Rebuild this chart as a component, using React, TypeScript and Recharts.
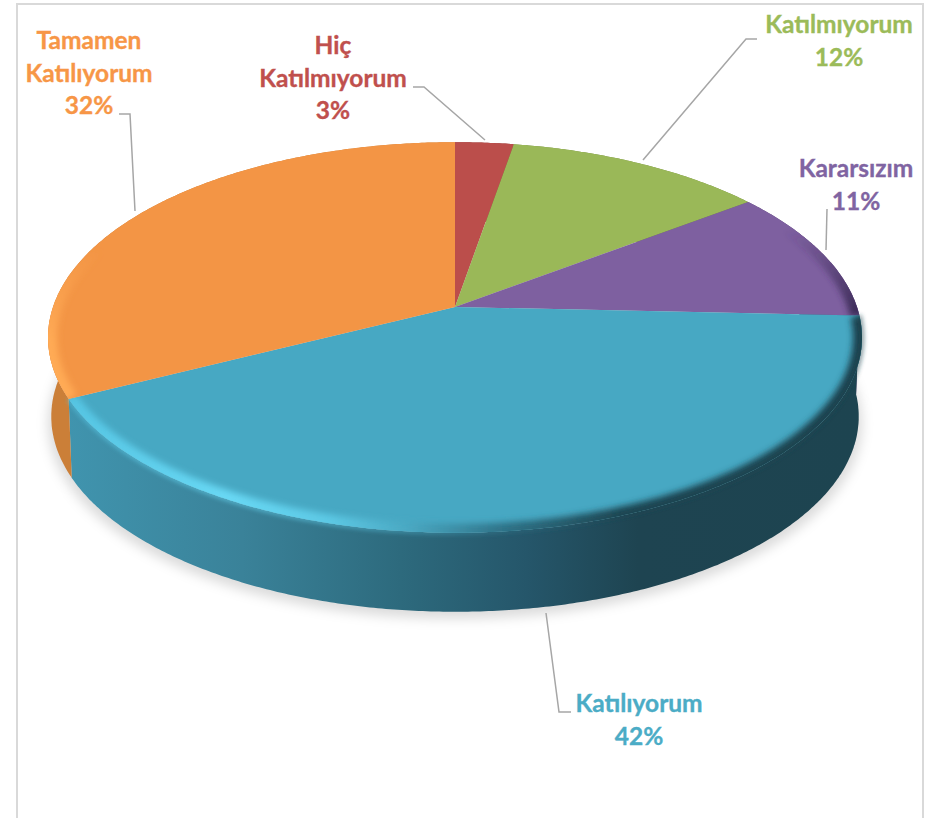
import { Pie, PieChart } from "recharts";

const categories = ["Hiç Katılmıyorum", "Katılmıyorum", "Kararsızım", "Katılıyorum", "Tamamen Katılıyorum"];
const shares = [2.7, 12, 11, 41.9, 32.4];
const faceColors = ["#bb4e4b", "#9ab858", "#7e60a0", "#47a8c3", "#f39545"];
const labelColors = ["#c0504d", "#9bbb59", "#8064a2", "#4bacc6", "#f79646"];
const wallColors = ["#8c3a38", "#73893f", "#5c4576", "url(#wallBlue)", "#cb7f38"];
const rimColors = ["none", "none", "url(#rimPurple)", "url(#rimBlue)", "url(#rimOrange)"];

const labelSpots = [
	{ x: 333, y: 54, line: "413,87 424,87 485,140" },
	{ x: 839, y: 33, line: "757,39 746,39 643,160" },
	{ x: 856, y: 177, line: "827,209 826,250" },
	{ x: 639, y: 712, line: "571,712 559,712 546,613" },
	{ x: 89, y: 49, line: "119,114 130,114 135,211" },
];

const pieData = categories.map((name, i) => ({
	name,
	value: shares[i],
	fill: faceColors[i],
}));

const PERSPECTIVE = 0.156;
const TILT = 0.474;
const DEPTH = 79;

// circle -> screen, the far side of the pie is squeezed a bit
function project(p: any, angle: number, depth = 0, shrink = 1) {
	const a = (angle * Math.PI) / 180;
	const u = Math.cos(a);
	const v = -Math.sin(a);
	const w = 1 - PERSPECTIVE * v;
	return [
		p.cx + (p.outerRadius * shrink * u) / w,
		p.cy + (p.outerRadius * TILT * v) / w + depth,
	];
}

function arcPoints(p: any, depth = 0, shrink = 1) {
	const steps = Math.max(2, Math.ceil(Math.abs(p.endAngle - p.startAngle) * 2));
	const pts: number[][] = [];
	for (let i = 0; i <= steps; i++) {
		pts.push(project(p, p.startAngle + ((p.endAngle - p.startAngle) * i) / steps, depth, shrink));
	}
	return pts;
}

const toPath = (pts: number[][]) =>
	pts.map((q, i) => `${i ? "L" : "M"}${q[0].toFixed(1)},${q[1].toFixed(1)}`).join(" ");

function ShadowSlice(props: any) {
	const d = `M${props.cx},${props.cy + DEPTH} ${toPath(arcPoints(props, DEPTH + 7, 1)).replace("M", "L")} Z`;
	return <path d={d} fill="#000" fillOpacity={0.14} filter="url(#softShadow)" />;
}

function WallSlice(props: any) {
	const top = arcPoints(props);
	const bottom = arcPoints(props, DEPTH, 0.992).reverse();
	const i = categories.indexOf(props.name);
	return <path d={`${toPath(top)} ${toPath(bottom).replace("M", "L")} Z`} fill={wallColors[i]} />;
}

function FaceSlice(props: any) {
	const i = categories.indexOf(props.name);
	const arc = toPath(arcPoints(props));
	const d = `M${props.cx},${props.cy} ${arc.replace("M", "L")} Z`;
	const clipId = `faceClip${i}`;
	return (
		<g>
			<clipPath id={clipId}>
				<path d={d} />
			</clipPath>
			<path d={d} fill={faceColors[i]} />
			{rimColors[i] !== "none" && (
				<g clipPath={`url(#${clipId})`}>
					<path d={arc} fill="none" stroke={rimColors[i]} strokeWidth={18} filter="url(#rimBlur)" />
				</g>
			)}
			{/* the bevel spills a little onto the blue wall */}
			{i === 3 && (
				<path d={arc} fill="none" stroke={rimColors[i]} strokeWidth={4} strokeOpacity={0.6} filter="url(#edgeBlur)" />
			)}
		</g>
	);
}

function SliceLabel(props: any) {
	const i = categories.indexOf(props.name);
	const spot = labelSpots[i];
	const words = props.name.split(" ");
	const lines = [...words, `${Math.round(props.percent * 100)}%`];
	return (
		<g>
			<polyline points={spot.line} fill="none" stroke="#a6a6a6" strokeWidth={1.5} />
			{lines.map((text: string, k: number) => (
				<text
					key={k}
					x={spot.x}
					y={spot.y + k * 32.5}
					textAnchor="middle"
					fill={labelColors[i]}
					stroke={labelColors[i]}
					strokeWidth={0.35}
					fontFamily="Lato"
					fontWeight={700}
					fontSize={24.5}
				>
					{text}
				</text>
			))}
		</g>
	);
}

const pieProps = {
	data: pieData,
	dataKey: "value",
	nameKey: "name",
	cx: 455,
	cy: 307,
	innerRadius: 0,
	outerRadius: 402,
	startAngle: 90,
	endAngle: -270,
	stroke: "none",
	isAnimationActive: false,
};

export default function App() {
	return (
		<div style={{ position: "absolute", left: 0, top: 0, width: 928, height: 818, overflow: "hidden", background: "#fff" }}>
			<div style={{ position: "absolute", left: 16, top: 3, width: 904, height: 900, border: "2px solid #d9d9d9" }} />
			<div style={{ position: "absolute", left: 0, top: 0 }}>
				<PieChart width={928} height={818} margin={{ top: 0, right: 0, bottom: 0, left: 0 }}>
					<defs>
						<linearGradient id="wallBlue" gradientUnits="userSpaceOnUse" x1={68} y1={0} x2={860} y2={0}>
							<stop offset="0" stopColor="#4094ae" />
							<stop offset="0.22" stopColor="#3a8299" />
							<stop offset="0.42" stopColor="#2d6a7d" />
							<stop offset="0.58" stopColor="#25566a" />
							<stop offset="0.72" stopColor="#1e4451" />
							<stop offset="1" stopColor="#1d4450" />
						</linearGradient>
						<linearGradient id="rimBlue" gradientUnits="userSpaceOnUse" x1={68} y1={0} x2={860} y2={0}>
							<stop offset="0" stopColor="#55c4e2" />
							<stop offset="0.2" stopColor="#68d8f4" />
							<stop offset="0.33" stopColor="#5cc8e4" />
							<stop offset="0.43" stopColor="#4aa8c2" />
							<stop offset="0.55" stopColor="#2f7388" />
							<stop offset="0.7" stopColor="#1e4652" />
							<stop offset="1" stopColor="#1d4350" />
						</linearGradient>
						<linearGradient id="rimOrange" gradientUnits="userSpaceOnUse" x1={0} y1={250} x2={0} y2={340}>
							<stop offset="0" stopColor="#ffaa55" stopOpacity={0} />
							<stop offset="1" stopColor="#ffaa55" />
						</linearGradient>
						<linearGradient id="rimPurple" gradientUnits="userSpaceOnUse" x1={0} y1={230} x2={0} y2={316}>
							<stop offset="0" stopColor="#3a2a55" stopOpacity={0} />
							<stop offset="1" stopColor="#3a2a55" />
						</linearGradient>
						<filter id="softShadow" x="-10%" y="-10%" width="120%" height="120%">
							<feGaussianBlur stdDeviation={6} />
						</filter>
						<filter id="rimBlur" x="-10%" y="-20%" width="120%" height="140%">
							<feGaussianBlur stdDeviation={3} />
						</filter>
						<filter id="edgeBlur" x="-10%" y="-20%" width="120%" height="140%">
							<feGaussianBlur stdDeviation={2} />
						</filter>
					</defs>
					<Pie {...pieProps} shape={ShadowSlice} />
					<Pie {...pieProps} shape={WallSlice} />
					<Pie {...pieProps} shape={FaceSlice} label={SliceLabel} labelLine={false} />
				</PieChart>
			</div>
		</div>
	);
}
